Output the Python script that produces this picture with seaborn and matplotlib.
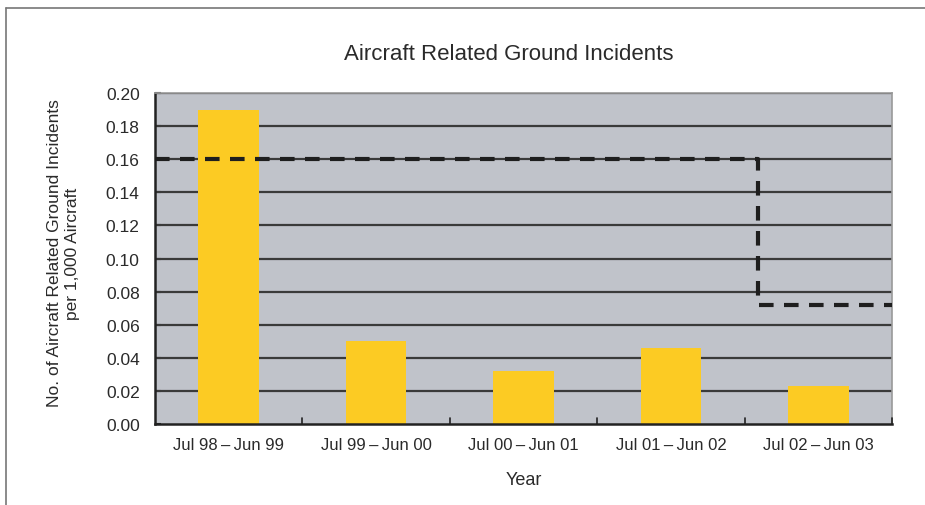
import matplotlib
matplotlib.use("Agg")
import matplotlib.pyplot as plt
import seaborn as sns
import pandas as pd
from matplotlib.lines import Line2D

periods = ["Jul 98\u2009\u2013\u2009Jun 99", "Jul 99\u2009\u2013\u2009Jun 00", "Jul 00\u2009\u2013\u2009Jun 01",
           "Jul 01\u2009\u2013\u2009Jun 02", "Jul 02\u2009\u2013\u2009Jun 03"]
incidents = [0.190, 0.050, 0.032, 0.046, 0.023]
target_x = [-0.5, 3.59, 3.59, 4.5]
target_y = [0.160, 0.160, 0.072, 0.072]
yticks = [0.00, 0.02, 0.04, 0.06, 0.08, 0.10, 0.12, 0.14, 0.16, 0.18, 0.20]

sns.set_theme(style="white")
plt.rcParams['font.family'] = ['Liberation Sans', 'DejaVu Sans']

df = pd.DataFrame({"period": periods, "value": incidents})
txt = "#2a2a2a"

fig = plt.figure(figsize=(9.25, 5.06), dpi=100)
ax = fig.add_axes([155/925, 1-425/506, (892-155)/925, (425-94)/506])
ax.set_facecolor("#c0c3ca")

for y in yticks[1:]:
    ax.axhline(y, color="#3a3a3a", lw=1.6, zorder=1)

sns.barplot(data=df, x="period", y="value", color="#fccb23", width=0.41,
            saturation=1, ax=ax, zorder=2, edgecolor="none")

ax.plot(target_x, target_y, color="#1e1e1e", lw=3, ls=(0, (3.5, 2.5)), zorder=3)

ax.set_xlim(-0.5, 4.5)
ax.set_ylim(0, 0.2)
ax.set_yticks(yticks)
ax.set_yticklabels([f"{v:.2f}" for v in yticks], fontsize=12.5, color=txt)
ax.set_xticks(range(len(periods)))
ax.set_xticklabels(periods, fontsize=12, color=txt)
ax.tick_params(axis="x", length=0, pad=9)
ax.tick_params(axis="y", direction="in", length=4, width=1.5, color="#222222", pad=11, left=True)
for b in [0.5, 1.5, 2.5, 3.5, 4.5]:
    ax.plot([b, b], [0, 0.0035], color="#222222", lw=1.2, zorder=4, clip_on=False)

for s in ["left", "bottom"]:
    ax.spines[s].set_color("#222222")
    ax.spines[s].set_linewidth(1.8)
for s in ["top", "right"]:
    ax.spines[s].set_color("#999999")
    ax.spines[s].set_linewidth(1.2)

ax.set_xlabel("Year", fontsize=13, color=txt, labelpad=14)
ax.set_ylabel("No. of Aircraft Related Ground Incidents\nper 1,000 Aircraft",
              fontsize=12.5, color=txt, linespacing=1.25)
ax.yaxis.set_label_coords(-0.102, 0.518)
fig.text(509/925, 1-55/506, "Aircraft Related Ground Incidents",
         ha="center", va="center", fontsize=16, color=txt)

fig.add_artist(Line2D([6/925, 6/925], [0, 1-9/506], transform=fig.transFigure,
                      color="#777777", lw=1.2))
fig.add_artist(Line2D([6/925, 1], [1-9/506, 1-9/506], transform=fig.transFigure,
                      color="#777777", lw=1.2))

fig.savefig("out.png", dpi=100)
